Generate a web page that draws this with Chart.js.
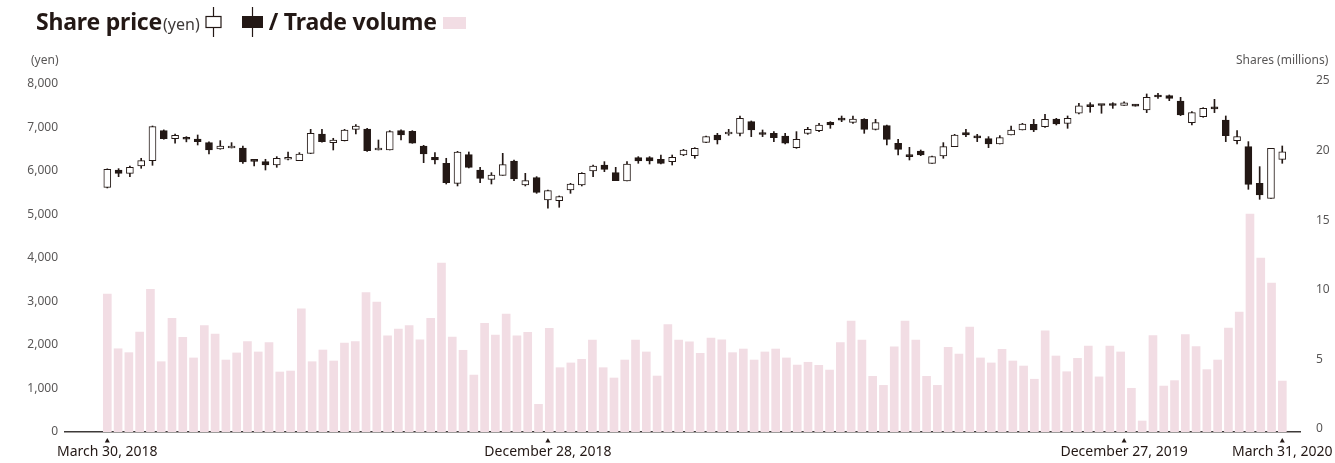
<!DOCTYPE html>
<html>
<head>
<meta charset="utf-8">
<script src="https://cdn.jsdelivr.net/npm/chart.js@4/dist/chart.umd.min.js"></script>
<style>
  body { margin: 0; background: #fff; font-family: "Noto Sans", sans-serif; color: #231815; }
  #wrap { position: relative; width: 1335px; height: 463px; overflow: hidden; }
  #chart { position: absolute; left: 0; top: 0; }
  .head { position: absolute; left: 36px; top: 2px; height: 38px; white-space: nowrap; display: flex; align-items: center; }
  .head b { font-size: 23px; font-weight: 700; letter-spacing: -0.2px; }
  .head .unit { font-size: 16px; color: #3e3a39; margin: 5px 4px 0 1px; }
  .head svg { margin: 2px 5px 0 1px; }
  .head .pink { display: inline-block; width: 23px; height: 12px; background: #f2dde4; margin: 3px 0 0 6px; }
  .axt { position: absolute; top: 51px; font-size: 12px; color: #595757; }
</style>
</head>
<body>
<div id="wrap">
  <canvas id="chart" width="1335" height="463"></canvas>
  <div class="head">
    <b>Share price</b><span class="unit">(yen)</span>
    <svg width="17" height="30" viewBox="0 0 17 30"><line x1="8.5" y1="0" x2="8.5" y2="30" stroke="#231815" stroke-width="1.2"/><rect x="1" y="9.5" width="15" height="11" fill="#fff" stroke="#231815" stroke-width="1.2"/></svg>
    <svg width="23" height="30" viewBox="0 0 23 30" style="margin-left:14px"><line x1="11.5" y1="0" x2="11.5" y2="30" stroke="#231815" stroke-width="1.2"/><rect x="1" y="9" width="21" height="12" fill="#231815"/></svg>
    <b>/ Trade volume</b><span class="pink"></span>
  </div>
  <div class="axt" style="left:31px">(yen)</div>
  <div class="axt" style="left:1236px">Shares (millions)</div>
</div>
<script>
// weekly candles, oldest first (week 0 = March 30, 2018)
const open = [
  5625, 6023, 5947, 6115, 6238, 6928, 6744, 6755, 6736, 6652,
  6506, 6529, 6529, 6230, 6215, 6138, 6270, 6238, 6406, 6851,
  6652, 6698, 6958, 6966, 6483, 6483, 6928, 6913, 6575, 6315,
  6177, 5717, 6376, 6023, 5809,
  5900, 6230, 5679, 5847, 5334, 5319, 5564, 5679, 6000, 6138,
  5962, 5770, 6307, 6307, 6269, 6215, 6368, 6353, 6658, 6828,
  6850, 6866, 7134, 6860, 6866, 6805, 6537, 6866, 6928, 7119,
  7180, 7119, 7188, 6958, 7042, 6637,
  6353, 6460, 6177, 6345, 6560, 6881, 6775, 6744, 6621, 6828,
  6943, 7073, 7020, 7196, 7096, 7327, 7500, 7520, 7520, 7510,
  7500, 7403, 7748, 7733, 7610, 7111, 7250, 7440, 7173, 6698,
  6560, 5717, 5372, 6269
];
const high = [
  6050, 6054, 6115, 6292, 7035, 6945, 6851, 6790, 6828, 6668,
  6698, 6652, 6575, 6235, 6269, 6330, 6437, 6422, 6958, 6958,
  6752, 6958, 7066, 6981, 6713, 6928, 6945, 6928, 6590, 6422,
  6292, 6452, 6437, 6085, 5962,
  6406, 6253, 5947, 5870, 5564, 5426, 5717, 5962, 6138, 6215,
  6085, 6215, 6330, 6330, 6368, 6368, 6498, 6537, 6805, 6866,
  6958, 7264, 7150, 6943, 6905, 6866, 6905, 7004, 7096, 7134,
  7264, 7264, 7203, 7188, 7058, 6728,
  6544, 6483, 6345, 6652, 6843, 6958, 6843, 6790, 6813, 7035,
  7096, 7188, 7300, 7211, 7265, 7556, 7570, 7520, 7570, 7590,
  7525, 7771, 7786, 7748, 7694, 7365, 7456, 7648, 7265, 6928,
  6675, 6100, 6522, 6575
];
const low = [
  5610, 5870, 5870, 6062, 6131, 6730, 6637, 6670, 6598, 6391,
  6500, 6529, 6177, 6115, 6023, 6085, 6253, 6238, 6400, 6660,
  6483, 6690, 6851, 6452, 6483, 6483, 6713, 6637, 6192, 6161,
  5701, 5656, 6070, 5732, 5701,
  5900, 5778, 5656, 5487, 5143, 5166, 5487, 5656, 5870, 5985,
  5778, 5770, 6177, 6161, 6161, 6138, 6353, 6292, 6652, 6621,
  6820, 6805, 6790, 6790, 6675, 6621, 6521, 6843, 6905, 6981,
  7134, 7096, 6866, 6943, 6598, 6368,
  6253, 6353, 6177, 6292, 6560, 6790, 6675, 6537, 6621, 6828,
  6943, 6905, 7004, 7058, 6981, 7310, 7350, 7327, 7440, 7510,
  7490, 7342, 7671, 7617, 7273, 7058, 7235, 7342, 6675, 6621,
  5579, 5349, 5372, 6177
];
const close = [
  6040, 5947, 6085, 6238, 7019, 6744, 6821, 6730, 6675, 6483,
  6575, 6575, 6207, 6222, 6138, 6292, 6285, 6391, 6866, 6675,
  6713, 6943, 7035, 6467, 6515, 6905, 6828, 6637, 6391, 6253,
  5732, 6437, 6085, 5832, 5908,
  6146, 5816, 5778, 5510, 5548, 5411, 5701, 5947, 6115, 6039,
  5778, 6161, 6230, 6230, 6177, 6315, 6483, 6521, 6790, 6713,
  6870, 7210, 6943, 6840, 6766, 6637, 6729, 6958, 7058, 7058,
  7170, 7196, 6958, 7111, 6728, 6498,
  6330, 6368, 6330, 6560, 6828, 6828, 6760, 6621, 6767, 6943,
  7081, 6943, 7188, 7081, 7211, 7500, 7480, 7505, 7505, 7570,
  7490, 7694, 7702, 7671, 7288, 7342, 7441, 7430, 6813, 6790,
  5694, 5449, 6522, 6438
];
// trade volume, millions of shares
const volume = [
  9.91, 5.98, 5.70, 7.18, 10.25, 5.05, 8.17, 6.80, 5.32, 7.64,
  7.04, 5.17, 5.68, 6.49, 5.75, 6.42, 4.31, 4.38, 8.84, 5.05,
  5.89, 5.10, 6.39, 6.49, 10.01, 9.34, 6.90, 7.40, 7.64, 6.63,
  8.17, 12.14, 6.82, 5.87, 4.09, 7.81, 6.97, 8.48, 6.90, 7.16,
  1.99, 7.45, 4.62, 4.96, 5.22, 6.61, 4.62, 3.88, 5.17, 6.61,
  5.75, 4.02, 7.71, 6.61, 6.47, 5.65, 6.75, 6.63, 5.70, 5.96,
  5.17, 5.75, 5.96, 5.32, 4.81, 5.01, 4.79, 4.45, 6.42, 7.97,
  6.61, 4.00, 3.35, 6.11, 7.97, 6.61, 4.00, 3.35, 6.08, 5.60,
  7.54, 5.32, 4.96, 5.94, 5.10, 4.74, 3.79, 7.26, 5.46, 4.33,
  5.29, 6.18, 3.96, 6.18, 5.75, 3.14, 0.79, 6.92, 3.30, 3.69,
  6.99, 6.13, 4.48, 5.17, 7.47, 8.62, 15.66, 12.50, 10.70, 3.66
];
const tickWeek = [0, 39, 90, 104];
const tickText = ["March 30, 2018", "December 28, 2018", "December 27, 2019", "March 31, 2020"];

const INK = "#231815";
const PINK = "#f2dde4";
const weeks = open.map((_, i) => i);
const slots = volume.map((_, i) => i);

// little pointer triangles under the dated ticks
const tickMarks = {
  id: "tickMarks",
  afterDraw(chart) {
    const { ctx, chartArea } = chart;
    const x = chart.scales.x;
    ctx.save();
    ctx.fillStyle = INK;
    tickWeek.forEach((v) => {
      const px = x.getPixelForValue(v);
      const y = chartArea.bottom + 6;
      ctx.beginPath();
      ctx.moveTo(px - 2.5, y + 4.5);
      ctx.lineTo(px + 2.5, y + 4.5);
      ctx.lineTo(px, y);
      ctx.closePath();
      ctx.fill();
    });
    ctx.restore();
  },
};

new Chart(document.getElementById("chart"), {
  type: "bar",
  data: {
    datasets: [
      {
        label: "body",
        data: weeks.map((i) => ({ x: i, y: [open[i], close[i]] })),
        backgroundColor: weeks.map((i) => (close[i] >= open[i] ? "#fff" : INK)),
        borderColor: INK,
        borderWidth: 1,
        borderSkipped: false,
        barThickness: 7,
        minBarLength: 2,
        grouped: false,
        xAxisID: "x",
        yAxisID: "y",
        order: 1,
      },
      {
        label: "wick",
        data: weeks.map((i) => ({ x: i, y: [low[i], high[i]] })),
        backgroundColor: INK,
        barThickness: 1,
        grouped: false,
        xAxisID: "x",
        yAxisID: "y",
        order: 2,
      },
      {
        label: "volume",
        data: slots.map((i) => ({ x: i, y: volume[i] })),
        backgroundColor: PINK,
        barThickness: 8,
        grouped: false,
        xAxisID: "x2",
        yAxisID: "y2",
        order: 3,
      },
    ],
  },
  options: {
    responsive: false,
    animation: false,
    devicePixelRatio: 1,
    layout: { padding: { top: 84 }, autoPadding: false },
    plugins: { legend: { display: false }, tooltip: { enabled: false } },
    scales: {
      x: {
        type: "linear",
        offset: false,
        min: -3.744,
        max: 105.57,
        grid: { display: false, drawTicks: false },
        border: { display: true, color: "#3e3a39", width: 1.5 },
        afterFit: (s) => {
          s.height = 31;
          s.paddingLeft = 0;
          s.paddingRight = 0;
        },
        afterBuildTicks: (s) => { s.ticks = tickWeek.map((v) => ({ value: v })); },
        ticks: {
          autoSkip: false,
          maxRotation: 0,
          minRotation: 0,
          padding: 12,
          color: "#231815",
          font: { family: "Noto Sans", size: 14 },
          callback: (v) => tickText[tickWeek.indexOf(v)],
        },
      },
      x2: {
        type: "linear",
        display: false,
        offset: false,
        min: -3.924,
        max: 110.64,
      },
      y: {
        position: "left",
        min: 0,
        max: 8000,
        grid: { display: false, drawTicks: false },
        border: { display: false },
        afterFit: (s) => { s.width = 65; },
        ticks: {
          stepSize: 1000,
          padding: 7,
          color: "#595757",
          font: { family: "Noto Sans", size: 12 },
          callback: (v) => v.toLocaleString("en-US"),
        },
      },
      y2: {
        position: "right",
        min: 0,
        max: 25,
        grid: { display: false, drawTicks: false },
        border: { display: false },
        afterFit: (s) => { s.width = 35; },
        ticks: {
          stepSize: 5,
          padding: 16,
          labelOffset: -3,
          color: "#595757",
          font: { family: "Noto Sans", size: 12 },
        },
      },
    },
  },
  plugins: [tickMarks],
});
</script>
</body>
</html>
